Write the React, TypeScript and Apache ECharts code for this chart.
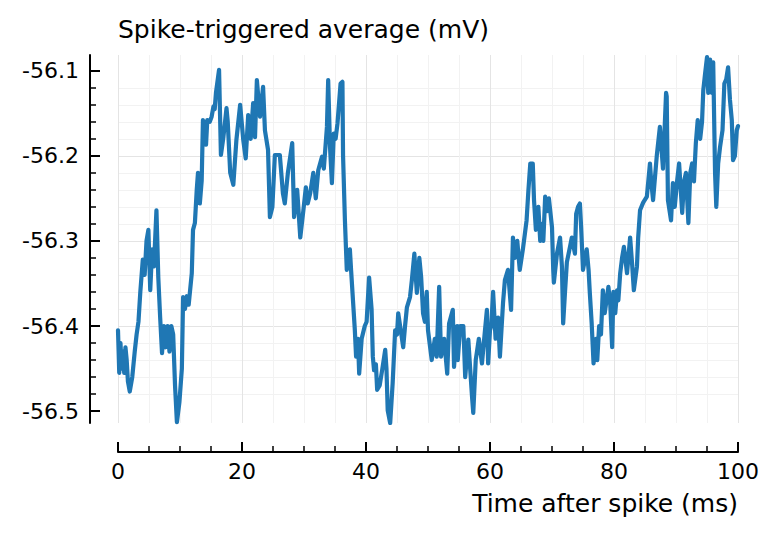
import React, { useEffect, useRef } from "react";
import * as echarts from "echarts";

const timeMs = [
  0.0, 0.2, 0.4, 0.6, 0.8, 1.0, 1.2, 1.4, 1.6, 1.9,
  2.3, 2.7, 3.0, 3.3, 3.6, 4.0, 4.3, 4.6, 4.9, 5.2,
  5.5, 5.8, 6.2, 6.5, 6.8, 7.1, 7.4, 7.7, 8.0, 8.3,
  8.6, 8.9, 9.2, 9.5, 9.9, 10.3, 10.5, 10.8, 11.1, 11.4,
  11.9, 12.1, 12.4, 12.7, 12.9, 13.2, 13.5, 13.7, 14.0, 14.2,
  14.4, 14.8, 15.1, 15.4, 15.6, 15.8, 16.3, 16.6, 17.0, 17.5,
  17.7, 18.1, 18.6, 19.1, 19.7, 20.2, 20.6, 21.0, 21.4, 21.8,
  22.1, 22.4, 22.9, 23.4, 23.7, 24.2, 24.5, 24.9, 25.3, 26.1,
  26.6, 26.9, 27.4, 28.1, 28.4, 28.9, 29.4, 29.9, 30.3, 30.6,
  31.0, 31.5, 31.9, 32.3, 32.9, 33.2, 33.7, 33.9, 34.2, 34.5,
  34.8, 35.1, 35.4, 35.9, 36.2, 36.3, 36.6, 36.9, 37.4, 37.6,
  37.9, 38.2, 38.4, 38.7, 38.9, 39.3, 39.8, 40.1, 40.5, 40.9,
  41.1, 41.3, 41.6, 41.8, 42.2, 42.6, 43.1, 43.3, 43.5, 43.9,
  44.3, 44.7, 45.0, 45.2, 45.8, 46.0, 46.3, 46.6, 47.1, 47.4,
  47.8, 48.2, 48.6, 48.9, 49.2, 49.5, 49.8, 50.0, 50.6, 51.1,
  51.4, 51.8, 52.1, 52.6, 53.1, 53.4, 54.0, 54.2, 54.7, 54.8,
  55.2, 55.7, 56.0, 56.5, 56.8, 57.1, 57.3, 57.7, 58.2, 58.7,
  59.0, 59.5, 59.7, 60.0, 60.2, 60.5, 60.9, 61.3, 61.6, 62.1,
  62.4, 62.9, 63.4, 63.7, 64.0, 64.4, 64.8, 65.3, 65.9, 66.2,
  66.5, 66.9, 67.1, 67.4, 67.8, 68.1, 68.4, 68.6, 68.9, 69.2,
  69.5, 70.0, 70.2, 70.3, 70.8, 71.3, 71.6, 71.8, 72.1, 72.4,
  72.9, 73.2, 73.7, 73.9, 74.2, 74.5, 74.7, 75.0, 75.6, 75.9,
  76.1, 76.4, 76.7, 77.1, 77.3, 77.6, 77.9, 78.2, 78.5, 79.1,
  79.4, 79.7, 79.9, 80.2, 80.5, 80.7, 81.0, 81.3, 81.6, 82.1,
  82.6, 82.9, 83.2, 83.7, 83.9, 84.2, 84.7, 85.3, 85.8, 86.0,
  86.3, 86.9, 87.4, 87.9, 88.4, 88.5, 88.7, 89.2, 89.5, 89.8,
  90.2, 90.5, 91.0, 91.3, 91.6, 92.0, 92.3, 92.6, 92.9, 93.2,
  93.5, 93.9, 94.2, 94.4, 94.7, 95.0, 95.2, 95.5, 95.8, 96.0,
  96.3, 96.5, 96.8, 97.1, 97.5, 97.8, 98.1, 98.4, 98.7, 99.0,
  99.2, 99.5, 99.8, 100.0,
];

const staMv = [
  -56.405, -56.455, -56.42, -56.45, -56.43, -56.455, -56.425, -56.44, -56.465, -56.477,
  -56.46, -56.43, -56.41, -56.395, -56.36, -56.322, -56.34, -56.3, -56.287, -56.358,
  -56.31, -56.33, -56.264, -56.343, -56.39, -56.432, -56.4, -56.425, -56.4, -56.43,
  -56.4, -56.41, -56.47, -56.513, -56.49, -56.45, -56.366, -56.38, -56.365, -56.375,
  -56.338, -56.287, -56.279, -56.24, -56.22, -56.256, -56.229, -56.158, -56.17, -56.187,
  -56.158, -56.16, -56.154, -56.142, -56.145, -56.126, -56.099, -56.199, -56.178, -56.144,
  -56.16, -56.22, -56.234, -56.181, -56.14, -56.181, -56.203, -56.152, -56.18, -56.138,
  -56.178, -56.111, -56.154, -56.119, -56.17, -56.193, -56.272, -56.26, -56.199, -56.199,
  -56.244, -56.256, -56.22, -56.185, -56.272, -56.24, -56.296, -56.264, -56.237, -56.256,
  -56.244, -56.22, -56.25, -56.217, -56.201, -56.215, -56.166, -56.111, -56.19, -56.232,
  -56.174, -56.18, -56.162, -56.115, -56.113, -56.2, -56.276, -56.334, -56.31, -56.335,
  -56.37, -56.405, -56.436, -56.415, -56.456, -56.415, -56.4, -56.395, -56.343, -56.38,
  -56.436, -56.452, -56.445, -56.475, -56.47, -56.452, -56.428, -56.45, -56.499, -56.514,
  -56.467, -56.405, -56.41, -56.385, -56.415, -56.425, -56.4, -56.378, -56.366, -56.346,
  -56.315, -56.361, -56.32, -56.343, -56.385, -56.395, -56.36, -56.405, -56.44, -56.415,
  -56.436, -56.354, -56.436, -56.415, -56.456, -56.397, -56.381, -56.448, -56.4, -56.44,
  -56.4, -56.4, -56.46, -56.416, -56.45, -56.483, -56.502, -56.44, -56.415, -56.444,
  -56.42, -56.381, -56.444, -56.405, -56.4, -56.36, -56.415, -56.39, -56.436, -56.373,
  -56.346, -56.334, -56.381, -56.296, -56.32, -56.3, -56.334, -56.31, -56.276, -56.24,
  -56.209, -56.209, -56.252, -56.287, -56.26, -56.3, -56.28, -56.3, -56.248, -56.265,
  -56.25, -56.284, -56.334, -56.349, -56.315, -56.296, -56.33, -56.397, -56.36, -56.325,
  -56.307, -56.296, -56.315, -56.268, -56.26, -56.256, -56.284, -56.334, -56.31, -56.334,
  -56.361, -56.397, -56.444, -56.415, -56.44, -56.4, -56.41, -56.358, -56.385, -56.354,
  -56.375, -56.425, -56.36, -56.385, -56.358, -56.37, -56.338, -56.32, -56.307, -56.338,
  -56.296, -56.325, -56.358, -56.33, -56.296, -56.264, -56.255, -56.248, -56.209, -56.23,
  -56.252, -56.2, -56.166, -56.215, -56.126, -56.13, -56.252, -56.276, -56.232, -56.26,
  -56.228, -56.209, -56.267, -56.23, -56.22, -56.279, -56.22, -56.209, -56.23, -56.185,
  -56.158, -56.18, -56.16, -56.123, -56.103, -56.084, -56.126, -56.087, -56.126, -56.09,
  -56.22, -56.26, -56.209, -56.19, -56.17, -56.115, -56.11, -56.096, -56.134, -56.158,
  -56.205, -56.2, -56.17, -56.165,
];

const yTickValues = [-56.5, -56.4, -56.3, -56.2, -56.1];
const xRange = [0, 100];
const yRange = [-56.514, -56.0815];
const titleText = "Spike-triggered average (mV)";
const xTitleText = "Time after spike (ms)";

const FONT = "DejaVu Sans";

export default function App() {
  const ref = useRef<HTMLDivElement>(null);

  useEffect(() => {
    if (!ref.current) return;
    const chart = echarts.init(ref.current, null, { renderer: "svg" });
    const data = timeMs.map((t, i) => [t, staMv[i]]);

    chart.setOption({
      animation: false,
      backgroundColor: "#ffffff",
      grid: { left: 118, right: 41, top: 55, bottom: 117, outerBoundsMode: "none" },
      xAxis: {
        type: "value",
        min: xRange[0],
        max: xRange[1],
        interval: 20,
        offset: 29,
        axisLine: { show: true, onZero: false, lineStyle: { color: "#000", width: 2 } },
        axisTick: { show: true, inside: true, length: 10, lineStyle: { color: "#000", width: 2 } },
        minorTick: { show: true, splitNumber: 4, length: 6, lineStyle: { color: "#000", width: 1.5 } },
        axisLabel: { margin: 8, fontSize: 22, color: "#000", fontFamily: FONT },
        splitLine: { show: true, lineStyle: { color: "#e4e4e4", width: 1 } },
        minorSplitLine: { show: true, lineStyle: { color: "#f2f2f2", width: 1 } },
      },
      yAxis: {
        type: "value",
        min: yRange[0],
        max: yRange[1],
        splitNumber: 4,
        offset: 28,
        axisLine: { show: true, onZero: false, lineStyle: { color: "#000", width: 2 } },
        axisTick: {
          show: true,
          inside: true,
          length: 10,
          customValues: yTickValues,
          lineStyle: { color: "#000", width: 2 },
        },
        minorTick: { show: true, splitNumber: 5, length: 6, lineStyle: { color: "#000", width: 1.5 } },
        axisLabel: {
          customValues: yTickValues,
          margin: 11,
          fontSize: 22,
          color: "#000",
          fontFamily: FONT,
          formatter: (v: number) => v.toFixed(1),
        },
        splitLine: {
          show: true,
          showMinLine: false,
          showMaxLine: false,
          lineStyle: { color: "#e4e4e4", width: 1 },
        },
        minorSplitLine: { show: true, lineStyle: { color: "#f2f2f2", width: 1 } },
      },
      graphic: [
        {
          type: "text",
          left: 118,
          top: 17,
          style: { text: titleText, fontSize: 25, fontFamily: FONT, fill: "#000" },
        },
        {
          type: "text",
          right: 41,
          top: 491,
          style: { text: xTitleText, fontSize: 25, fontFamily: FONT, fill: "#000" },
        },
      ],
      series: [
        {
          type: "line",
          data,
          showSymbol: false,
          symbol: "none",
          clip: true,
          silent: true,
          lineStyle: { color: "#1f77b4", width: 4.2, join: "round", cap: "round" },
        },
      ],
    });

    return () => chart.dispose();
  }, []);

  return (
    <div
      ref={ref}
      style={{ position: "fixed", left: 0, top: 0, width: 779, height: 540, background: "#fff" }}
    />
  );
}
